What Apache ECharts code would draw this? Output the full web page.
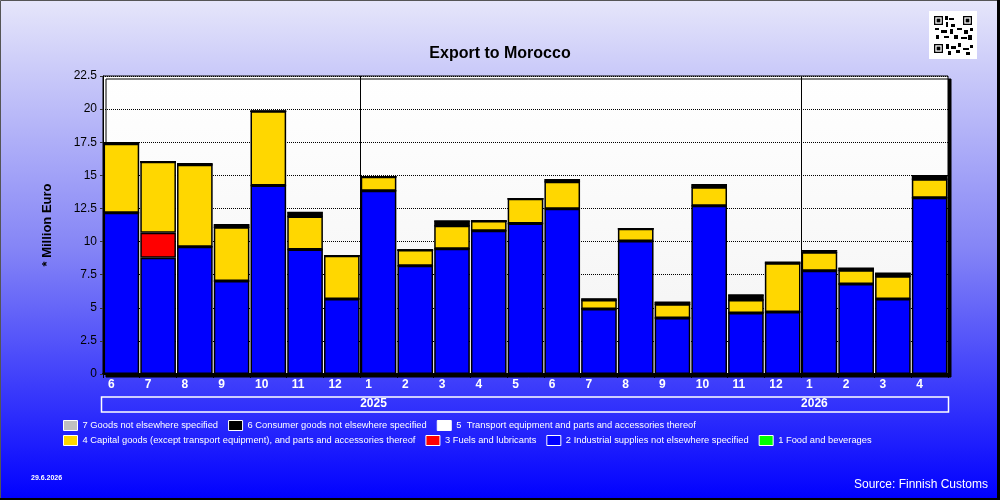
<!doctype html>
<html>
<head>
<meta charset="utf-8">
<style>
  html, body { margin: 0; padding: 0; }
  #main { width: 1000px; height: 500px; }
</style>
</head>
<body>
<div id="main"></div>
<script src="https://cdn.jsdelivr.net/npm/echarts@6/dist/echarts.min.js"></script>
<script>
// months shown on the axis, with the year each belongs to
var months = ['6', '7', '8', '9', '10', '11', '12', '1', '2', '3', '4', '5', '6', '7', '8', '9', '10', '11', '12', '1', '2', '3', '4'];
var years = ['2024', '2024', '2024', '2024', '2024', '2024', '2024',
             '2025', '2025', '2025', '2025', '2025', '2025', '2025', '2025', '2025', '2025', '2025', '2025',
             '2026', '2026', '2026', '2026'];

// million euro per product group
var food      = [0, 0, 0, 0, 0, 0, 0, 0, 0, 0, 0, 0, 0, 0, 0, 0, 0, 0, 0, 0, 0, 0, 0];
var industrial = [12.17, 8.77, 9.6, 7.03, 14.23, 9.4, 5.67, 13.83, 8.18, 9.45, 10.81, 11.36, 12.47, 4.91, 10.05, 4.23, 12.7, 4.61, 4.69, 7.79, 6.8, 5.67, 13.3];
var fuels     = [0, 1.89, 0, 0, 0, 0, 0, 0, 0, 0, 0, 0, 0, 0, 0, 0, 0, 0, 0, 0, 0, 0, 0];
var capital   = [5.21, 5.36, 6.2, 4.05, 5.6, 2.49, 3.25, 1.06, 1.19, 1.74, 0.75, 1.87, 2.04, 0.68, 0.91, 1.03, 1.4, 0.98, 3.67, 1.4, 1.03, 1.71, 1.41];
var transport = [0, 0, 0, 0, 0, 0, 0, 0, 0, 0, 0, 0, 0, 0, 0, 0, 0, 0, 0, 0, 0, 0, 0];
var consumer  = [0.08, 0, 0.07, 0.18, 0, 0.3, 0, 0, 0, 0.37, 0, 0, 0.15, 0.08, 0, 0.15, 0.19, 0.38, 0.08, 0.11, 0.15, 0.22, 0.26];
var otherGoods = [0, 0, 0, 0, 0, 0, 0, 0, 0, 0, 0, 0, 0, 0, 0, 0, 0, 0, 0, 0, 0, 0, 0];

var yTicks = { min: 0, max: 22.5, step: 2.5 };

var chart = echarts.init(document.getElementById('main'));
var font = 'Arial, "Liberation Sans", sans-serif';

// labels sit on the borders between months, so one extra slot
var monthEdges = months.concat(['']);
var yearEdges = monthEdges.map(function (m, i) {
    return (i > 0 && i < years.length && years[i] !== years[i - 1]) ? years[i] : '';
});

function bar(name, data, color) {
    return {
        name: name,
        type: 'bar',
        stack: 'total',
        xAxisIndex: 0,
        data: data,
        barCategoryGap: '3%',
        itemStyle: { color: color, borderColor: '#000', borderWidth: 1.5 }
    };
}

var names = {
    food: '1 Food and beverages',
    industrial: '2 Industrial supplies not elsewhere specified',
    fuels: '3 Fuels and lubricants',
    capital: '4 Capital goods (except transport equipment), and parts and accessories thereof',
    transport: '5  Transport equipment and parts and accessories thereof',
    consumer: '6 Consumer goods not elsewhere specified',
    other: '7 Goods not elsewhere specified'
};

var legendCommon = {
    left: 58,
    icon: 'rect',
    itemWidth: 14,
    itemHeight: 10,
    itemGap: 10,
    itemStyle: { borderColor: '#fff', borderWidth: 1 },
    textStyle: { color: '#fff', fontSize: 9.35, fontFamily: font },
    selectedMode: false
};

// QR-like badge blocks (decoration)
var qrBlocks = [[945,16,3,4],[949,18,5,2],[946,22,2,5],[951,24,4,3],[935,28,4,2],[941,30,6,3],[950,29,3,5],
    [957,28,5,2],[964,30,4,4],[970,28,3,3],[936,35,3,4],[944,36,5,2],[954,35,4,4],[961,37,6,2],[968,35,4,5],
    [946,44,3,5],[951,46,5,3],[958,43,3,4],[963,48,6,2],[966,52,4,3],[948,51,3,4],[956,50,4,3],[970,45,3,3]];
var qr = [{ type: 'rect', shape: { x: 929, y: 11, width: 48, height: 48 }, style: { fill: '#fff' } }];
[[934, 16], [963, 16], [934, 44]].forEach(function (p) {
    qr.push({ type: 'rect', shape: { x: p[0], y: p[1], width: 9, height: 9 }, style: { fill: '#000' } });
    qr.push({ type: 'rect', shape: { x: p[0] + 1.3, y: p[1] + 1.3, width: 6.4, height: 6.4 }, style: { fill: '#fff' } });
    qr.push({ type: 'rect', shape: { x: p[0] + 2.6, y: p[1] + 2.6, width: 3.8, height: 3.8 }, style: { fill: '#000' } });
});
qrBlocks.forEach(function (b) {
    qr.push({ type: 'rect', shape: { x: b[0], y: b[1], width: b[2], height: b[3] }, style: { fill: '#000' } });
});

chart.setOption({
    backgroundColor: {
        type: 'linear', x: 0, y: 0, x2: 0, y2: 1,
        colorStops: [
            { offset: 0, color: '#e6e6fa' },
            { offset: 0.5, color: '#8484f6' },
            { offset: 1, color: '#0000ff' }
        ]
    },
    animation: false,
    title: {
        text: 'Export to Morocco',
        left: 'center',
        top: 41,
        textStyle: { fontSize: 16, fontWeight: 'bold', color: '#000', fontFamily: font }
    },
    legend: [
        Object.assign({ top: 415, data: [names.other, names.consumer, names.transport] }, legendCommon),
        Object.assign({ top: 430, data: [names.capital, names.fuels, names.industrial, names.food] }, legendCommon)
    ],
    grid: {
        left: 103, right: 52, top: 76, bottom: 126,
        show: true,
        backgroundColor: {
            type: 'linear', x: 0, y: 0, x2: 0, y2: 1,
            colorStops: [{ offset: 0, color: '#ffffff' }, { offset: 1, color: '#f3f3f3' }]
        },
        borderColor: '#000',
        borderWidth: 1,
        shadowColor: '#000',
        shadowBlur: 0,
        shadowOffsetX: 3,
        shadowOffsetY: 3
    },
    xAxis: [
        {
            type: 'category',
            data: months,
            axisLine: { lineStyle: { color: '#000', width: 2 } },
            axisTick: { show: false },
            axisLabel: { show: false }
        },
        {
            type: 'category',
            data: monthEdges,
            boundaryGap: false,
            position: 'bottom',
            axisLine: { show: false },
            axisTick: { show: true, interval: 0, length: 4, lineStyle: { color: '#000' } },
            axisLabel: {
                interval: 0, align: 'left', padding: [0, 0, 0, 5], margin: 5,
                color: '#fff', fontWeight: 'bold', fontSize: 12, fontFamily: font
            },
            splitLine: {
                show: true,
                interval: function (index) { return yearEdges[index] !== ''; },
                lineStyle: { color: '#000', width: 1, type: 'solid' }
            }
        },
        {
            type: 'category',
            data: yearEdges,
            boundaryGap: false,
            position: 'bottom',
            offset: 23,
            axisLine: { show: false },
            axisTick: { show: false },
            axisLabel: {
                interval: 0, align: 'left', margin: 1,
                color: '#fff', fontWeight: 'bold', fontSize: 12, fontFamily: font
            }
        }
    ],
    yAxis: {
        type: 'value',
        min: yTicks.min,
        max: yTicks.max,
        interval: yTicks.step,
        name: '* Million Euro',
        nameLocation: 'middle',
        nameRotate: 90,
        nameGap: 49,
        nameTextStyle: { fontWeight: 'bold', fontSize: 13, color: '#000', fontFamily: font },
        axisLine: { show: true, lineStyle: { color: '#000' } },
        axisTick: { show: true, length: 3, lineStyle: { color: '#333' } },
        axisLabel: { color: '#000', fontSize: 12, margin: 6, fontFamily: font },
        splitLine: { lineStyle: { type: 'dotted', color: '#000', width: 1 } }
    },
    series: [
        bar(names.food, food, '#00ff00'),
        bar(names.industrial, industrial, '#0000ff'),
        bar(names.fuels, fuels, '#ff0000'),
        bar(names.capital, capital, '#ffd700'),
        bar(names.transport, transport, '#ffffff'),
        bar(names.consumer, consumer, '#000000'),
        bar(names.other, otherGoods, '#c0c0c0')
    ],
    graphic: [
        { type: 'rect', shape: { x: 101.5, y: 397, width: 847, height: 15 }, style: { fill: 'none', stroke: '#fff', lineWidth: 1.5 } },
        { type: 'text', left: 31, top: 475, style: { text: '29.6.2026', fill: '#fff', font: 'bold 7px ' + font } },
        { type: 'text', right: 12, top: 479, style: { text: 'Source: Finnish Customs', fill: '#fff', font: '12px ' + font } },
        { type: 'rect', shape: { x: 0.5, y: 0.5, width: 997, height: 498 }, style: { fill: 'none', stroke: '#555', lineWidth: 1 } },
        { type: 'rect', shape: { x: 997, y: 0, width: 3, height: 500 }, style: { fill: '#000' } },
        { type: 'rect', shape: { x: 0, y: 498, width: 1000, height: 2 }, style: { fill: '#000' } }
    ].concat(qr)
});

window.onresize = chart.resize;
</script>
</body>
</html>
